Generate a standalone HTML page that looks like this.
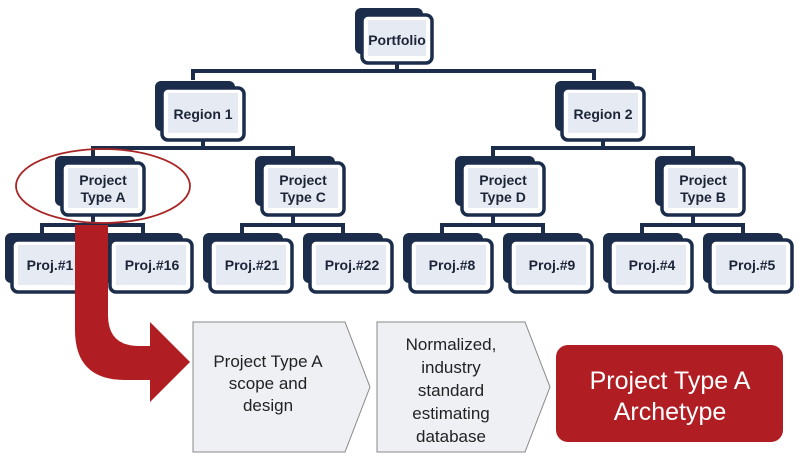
<!DOCTYPE html>
<html><head><meta charset="utf-8"><style>
html,body{margin:0;padding:0;background:#fff;}
svg{display:block;font-family:"Liberation Sans",sans-serif;}
.t{font-weight:bold;font-size:14px;fill:#1c2438;text-anchor:middle;}
.w{font-size:17px;fill:#222;text-anchor:middle;}
</style></head><body>
<svg width="800" height="458" viewBox="0 0 800 458" xmlns="http://www.w3.org/2000/svg">
<defs>
<g id="n82">
<rect x="-7" y="-7" width="80" height="50" rx="6" fill="#1b2d4b"/>
<rect x="0" y="0" width="82" height="52" rx="6" fill="#fff" stroke="#1b2d4b" stroke-width="3.5"/>
<rect x="6" y="5" width="70" height="40" fill="#e6eaf2"/>
</g>
<g id="n70">
<rect x="-7" y="-7" width="68" height="46" rx="6" fill="#1b2d4b"/>
<rect x="0" y="0" width="70" height="48" rx="6" fill="#fff" stroke="#1b2d4b" stroke-width="3.5"/>
<rect x="6" y="5" width="58" height="36" fill="#e6eaf2"/>
</g>
</defs>
<g stroke="#1b2d4b" stroke-width="4" fill="none">
<path d="M397 63V71M193 80V71H594V80"/>
<path d="M203 140V148M93 157V148H293V157"/>
<path d="M603 140V148M493 157V148H693V157"/>
<path d="M93 213V225M42 234V225H143V234"/>
<path d="M293 213V225M242 234V225H343V234"/>
<path d="M493 213V225M442 234V225H543V234"/>
<path d="M693 213V225M642 234V225H743V234"/>
</g>
<use href="#n70" x="362" y="15"/>
<text class="t" x="397" y="45">Portfolio</text>
<use href="#n82" x="162" y="88"/><text class="t" x="203" y="119">Region 1</text>
<use href="#n82" x="562" y="88"/><text class="t" x="603" y="119">Region 2</text>
<use href="#n82" x="62" y="163"/><text class="t" x="103" y="185">Project</text><text class="t" x="103" y="202">Type A</text>
<use href="#n82" x="262" y="163"/><text class="t" x="303" y="185">Project</text><text class="t" x="303" y="202">Type C</text>
<use href="#n82" x="462" y="163"/><text class="t" x="503" y="185">Project</text><text class="t" x="503" y="202">Type D</text>
<use href="#n82" x="662" y="163"/><text class="t" x="703" y="185">Project</text><text class="t" x="703" y="202">Type B</text>
<use href="#n82" x="12" y="240"/><text class="t" x="50" y="270">Proj.#1</text>
<use href="#n82" x="110" y="240"/><text class="t" x="152" y="270">Proj.#16</text>
<use href="#n82" x="210" y="240"/><text class="t" x="252" y="270">Proj.#21</text>
<use href="#n82" x="310" y="240"/><text class="t" x="352" y="270">Proj.#22</text>
<use href="#n82" x="410" y="240"/><text class="t" x="452" y="270">Proj.#8</text>
<use href="#n82" x="510" y="240"/><text class="t" x="552" y="270">Proj.#9</text>
<use href="#n82" x="610" y="240"/><text class="t" x="652" y="270">Proj.#4</text>
<use href="#n82" x="710" y="240"/><text class="t" x="752" y="270">Proj.#5</text>
<ellipse cx="103" cy="186" rx="87" ry="37" fill="none" stroke="#a82525" stroke-width="1.8"/>
<path d="M75 225H108V315Q108 346 139 346H150V322L190 362L150 402V380H125Q75 380 75 330Z" fill="#b01e23"/>
<path d="M193 322H345L370 387L345 452H193Z" fill="#eef0f4" stroke="#888" stroke-width="1"/>
<path d="M377 322H525L550 387L525 452H377Z" fill="#eef0f4" stroke="#888" stroke-width="1"/>
<text class="w" x="268" y="367">Project Type A</text>
<text class="w" x="268" y="389">scope and</text>
<text class="w" x="268" y="411">design</text>
<text class="w" x="451" y="350">Normalized,</text>
<text class="w" x="451" y="373">industry</text>
<text class="w" x="451" y="396">standard</text>
<text class="w" x="451" y="419">estimating</text>
<text class="w" x="451" y="442">database</text>
<rect x="556" y="345" width="227" height="97" rx="12" fill="#b01e23"/>
<text x="670" y="389" font-size="25" fill="#fff" text-anchor="middle">Project Type A</text>
<text x="670" y="420" font-size="25" fill="#fff" text-anchor="middle">Archetype</text>
</svg>
</body></html>
